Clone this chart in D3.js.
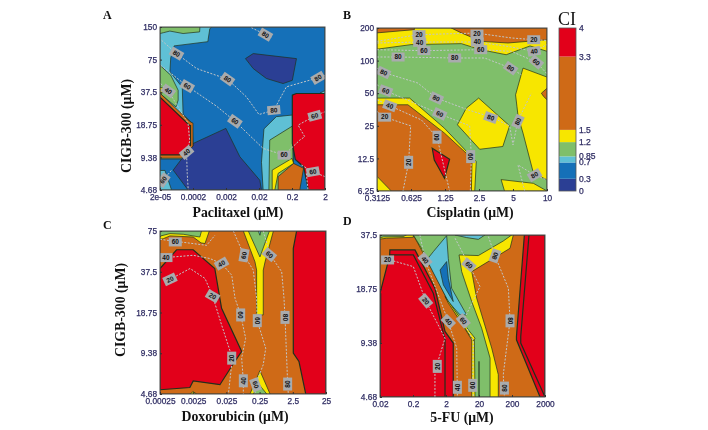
<!DOCTYPE html>
<html><head><meta charset="utf-8">
<script src="https://cdn.jsdelivr.net/npm/d3@7"></script>
<style>html,body{margin:0;padding:0;background:#fff}svg{display:block;filter:blur(.35px)}</style>
</head><body><svg id="c" width="708" height="430"></svg>
<script>
// CI colour bands
const ciBreaks = [0.3, 0.7, 0.85, 1.2, 1.5, 3.3];
const ciColors = ["#2b3f94", "#1570b8", "#5fc0d5", "#7fbf6a", "#f7e600", "#cf6a17", "#e2001a"];
const ciTicks = [0, 0.3, 0.7, 0.85, 1.2, 1.5, 3.3, 4];

// Axis tick labels
const aXTicks = ["2e-05", "0.0002", "0.002", "0.02", "0.2", "2"];
const aYTicks = ["150", "75", "37.5", "18.75", "9.38", "4.68"];
const bXTicks = ["0.3125", "0.625", "1.25", "2.5", "5", "10"];
const bYTicks = ["200", "100", "50", "25", "12.5", "6.25"];
const cXTicks = ["0.00025", "0.0025", "0.025", "0.25", "2.5", "25"];
const cYTicks = ["75", "37.5", "18.75", "9.38", "4.68"];
const dXTicks = ["0.02", "0.2", "2", "20", "200", "2000"];
const dYTicks = ["37.5", "18.75", "9.38", "4.68"];

// CI regions: [CI level, [dose position % along x, % down y]...], painted in order
const aRegions = [
 [0.5, [[0,0],[100,0],[100,100],[0,100]]],
 [0.1, [[51.8,19.4],[56.5,16.3],[82.7,19.4],[80.2,32.7],[74.6,34.7],[64.5,31.6],[56.5,25.5]]],
 [0.1, [[8,87.8],[20.2,71.4],[39.9,62.2],[48.4,79.6],[60.5,94],[61.5,100],[17,100]]],
 [0.75,[[0,0],[31.3,0],[30.2,1],[29.2,7.5],[29,9],[8.5,11.6],[6.5,19],[6,27.5],[13.5,37],[14,53.5],[19.5,59],[20,73],[13,81],[0,81]]],
 [0.75,[[0,88],[3,88],[7,100],[0,100]]],
 [1,   [[0,0],[24.2,0],[24,3],[14,4],[6,2.5],[2,3.5],[0,4]]],
 [1,   [[0,23.5],[6.5,29.6],[11,38.8],[11,44.9],[9.7,49],[0,40.8]]],
 [1.3, [[0,37],[2,37.5],[1,41],[0,41]]],
 [2,   [[0,40.6],[18,58],[20,59],[20,73],[13,80.5],[0,80.5]]],
 [3.6, [[0,43],[17.5,60],[18.5,60.5],[18.5,72.5],[12,78.5],[0,78.5]]],
 [0.75,[[62.5,100],[61.5,83],[63,62.5],[70.5,55],[80.2,54],[81,100]]],
 [1,   [[66,100],[66.5,69.4],[80.2,60.8],[81,100]]],
 [1.3, [[68,87.8],[80,80.6],[81,83.7],[71.6,89.8],[69.6,100],[68,100]]],
 [2,   [[71.6,91.8],[81,83.7],[87,86.7],[84.7,100],[71.6,100]]],
 [0.75,[[97,40.5],[100,39],[100,41]]],
 [3.6, [[80.2,41.8],[82.6,40.8],[100,40.8],[100,100],[90,100],[87,85.7],[82,81.2],[80.2,71.4]]]
];
const bRegions = [
 [1,   [[0,0],[100,0],[100,100],[0,100]]],
 [1.3, [[0,0],[100,0],[100,14.3],[90,11],[76,16.4],[61,13.3],[49.6,9.6],[20,10.2],[0,13]]],
 [2,   [[43.7,0],[100,0],[100,7.2],[77,9.2],[61.4,8.2],[49.6,3]]],
 [2,   [[0,0],[22,0],[22,1],[0,3]]],
 [1.3, [[85.9,24.6],[100,30.1],[100,93.2],[92,89],[85.9,64.5],[83,54.3],[82.3,48],[81.5,41]]],
 [2,   [[96.7,40],[100,37],[100,44],[98,42]]],
 [1.3, [[73,93],[92,95.3],[100,100],[75,100]]],
 [1.3, [[59.8,43],[78,60],[74,72.7],[60.4,74.4],[47.3,59.4],[52.5,49.2]]],
 [1.3, [[0,43],[19.2,43],[39.7,61.5],[58.4,82],[57.5,100],[0,100]]],
 [2,   [[0,47.1],[18.2,47.1],[39.7,64.5],[52.5,76.8],[55.9,83],[55.5,100],[8.4,100],[0,91]]],
 [3.6, [[32.5,73.8],[42.7,80.5],[39.7,92.2],[33.7,81]]]
];
const cRegions = [
 [2,   [[0,0],[100,0],[100,100],[0,100]]],
 [3.6, [[80.3,10.6],[82.3,0],[100,0],[100,100],[87.8,100],[83.7,80],[80.3,74.9]]],
 [3.6, [[0,23],[10,11.5],[20,11.5],[33,23],[37.1,47.4],[49.2,73.9],[43.2,83],[36.1,94.3],[20,92],[18,96],[0,97.4]]],
 [1.3, [[0,0],[29.7,0],[27.1,7.7],[24.7,7.3],[20,3.7],[6,3],[2,4.7],[0,5.1]]],
 [1,   [[0,0],[25,0],[24,3.7],[14,2],[6,1.6],[0.6,3],[0,3.7]]],
 [1.3, [[50.2,0],[68.3,0],[63.3,18.9],[62.2,24],[62.2,51.5],[58.2,51.5],[58.2,24],[57.2,18.9]]],
 [1,   [[53.2,0],[65.9,0],[60.2,15.9]]],
 [0.75,[[59.2,0],[60.8,0],[60.2,2.6]]],
 [1.3, [[60.2,85.7],[66.3,100],[54.2,100]]],
 [1,   [[59.8,94.3],[64.3,100],[56.2,100]]],
 [1.3, [[18,100],[20,98.5],[22,100]]]
];
const dRegions = [
 [2,   [[0,0],[100,0],[100,100],[0,100]]],
 [1.3, [[0,0],[20.2,0],[20.2,1.4],[4,2],[0,2.5]]],
 [1,   [[0,0],[16,0],[14,1],[2,1.2],[0,1.7]]],
 [1.3, [[20.2,0],[80.8,0],[78.8,8.2],[55.6,22.6],[58.6,39],[67.7,69.8],[71.7,86.2],[71.7,100],[55.6,100],[55.6,64.7],[41.4,41.1],[33.3,24.6]]],
 [1,   [[20.2,0],[79.8,0],[74.7,3.7],[59.6,12.7],[47.9,12.3],[49.5,22.6],[55.6,41.1],[61.6,57.5],[66.7,76],[66.7,100],[57.6,100],[57.2,64.7],[41.4,41.1],[31.3,18.5]]],
 [1,   [[60,78],[60,100]]],
 [0.75,[[28.3,15.4],[32.3,10.3],[40.4,0.4],[41.4,14.4],[43.4,32.9],[52.5,49.3],[48.5,49.3],[41.4,41.1]]],
 [0.75,[[45.5,0],[63.6,0],[59.6,2.7],[52.5,1.6]]],
 [0.5, [[36.4,21.6],[40.4,16.4],[41.4,26.7],[44.4,41.1],[38.4,30.8]]],
 [1.3, [[39.4,38],[53.5,58.5],[57.6,63.7],[56.6,65.3],[41.4,42]]],
 [3.6, [[87.5,0],[100,0],[100,100],[97,100],[82.7,64.7],[82.7,62.6]]],
 [3.6, [[90.3,0],[100,0],[100,100],[85.3,66.7],[85.3,62.6]]],
 [3.6, [[0,36],[5,30.8],[6,9.2],[21.2,9.2],[33.3,32.9],[39.4,59.5],[44.4,66.7],[44.4,100],[0,100]]],
 [3.6, [[0,100],[0,36],[6,12.3],[20.2,12.3],[32.3,36],[39.4,64.7],[39.4,100]]],
 [3.6, [[0.4,36],[0.4,67]]]
];

// Inhibition isolines
const aLines = [
 [[1,8.2],[10,16.3],[22.2,25.5],[40.9,32],[52.4,42.9],[60,53.7],[69,51],[76.6,36.7],[95.8,31.2],[100,29.6]],
 [[55.4,0.4],[63.9,4.7],[67.5,6.1]],
 [[0.4,23.5],[16.5,36.3],[34.3,48.6],[45.4,57.8],[62.5,74.5],[75.2,78.6],[84.7,69.4],[87.7,67.3],[83.7,60.2],[93.8,54.5],[100,52]],
 [[0.4,34.7],[5,39.2],[17,59],[18,70],[16.1,76.9],[16.5,90],[17.1,100]],
 [[85.7,84.7],[92.7,88.8],[100,91.8]],
 [[88.7,89.8],[89.7,100]],
 [[0,100],[2,93.9],[7,87.8]]
];
const bLines = [
 [[0,8.2],[24.1,4.1],[58.4,3.1],[79,6.1],[92.4,7.2],[100,7.6]],
 [[0,9.2],[25.1,8.6],[59,8.6],[77,11.3],[92.4,14.3],[100,10.2]],
 [[0,13.3],[27.6,13.9],[61,13.3],[79,14.3],[93.7,20.9],[100,28.1]],
 [[0,17.8],[12.4,17.8],[45.7,18.4],[63.3,18.4],[78.6,24.6],[84.9,28.7]],
 [[0,24.6],[3.9,27.3],[24.1,33.8],[34.9,43],[53.5,50.2],[67.3,54.7],[78,60],[80,71.7],[82.9,56.8],[90.8,40]],
 [[0,34.8],[5.1,38.5],[36.9,52.7],[54.5,60],[55.5,78.9],[54.9,100]],
 [[0,44],[7.5,47.7],[26.1,56.4],[35.3,67],[42.7,100]],
 [[0,51.2],[4.5,54.7],[19.8,60],[18.6,82.4],[15.3,100]],
 [[86.9,100],[82.9,84],[92.7,90.2],[100,93.2]]
];
const cLines = [
 [[0,5.1],[9.2,6.3],[28.1,8.8],[33.1,2.6]],
 [[3.6,16.3],[20,14.9],[30.1,16.9],[37.1,20],[43.2,27.1],[45.2,41.3],[48.6,51.5],[51.6,65.8],[49.2,78],[50.2,91.9],[50.2,100]],
 [[6,29.7],[18.1,23],[27.1,29.1],[31.7,39.9],[37.1,57.6],[43.6,78],[41.2,100]],
 [[44.2,0],[50.6,14.9],[56.2,24],[58.2,41.3],[58.6,55.2],[63.7,71.9],[62.2,82],[57.6,94.3],[57.2,100]],
 [[62.2,0],[66.3,14.5],[73.3,25],[74.7,41.3],[75.3,53],[76.3,78],[76.9,93.9],[77.3,100]]
];
const dLines = [
 [[8.1,16],[20.2,19.5],[27.7,40.7],[39.4,63.7],[33.3,84.2],[33.3,100]],
 [[24.2,0],[27.3,15.4],[41.4,53.4],[46.5,69.8],[46.9,100]],
 [[45.5,2],[53.9,18.5],[60.6,31.8],[50.5,53],[56.6,65.7],[56.2,92.8],[56.6,100]],
 [[65.7,1],[69.7,12.9],[77.8,32.9],[78.8,53],[74.7,86.2],[75.4,100]]
];

// Isoline labels: x%, y%, value, rotation
const aLabels = [[10,16.3,80,30],[40.9,32,80,35],[69,51,80,-5],[95.8,31.2,80,-30],[63.9,4.7,80,30],[16.5,36.3,60,30],[45.4,57.8,60,35],[75.2,78.6,60,0],[93.8,54.5,60,-15],[92.7,88.8,60,-10],[5,39.2,40,35],[16.1,76.9,40,-40],[2,93.9,60,-55]];
const bLabels = [[24.7,4.1,20,0],[58.8,3.7,20,0],[25.1,8.8,40,0],[59,8.6,40,0],[27.6,13.9,60,0],[61,13.3,60,0],[92.2,7.2,20,0],[92.4,14.3,40,-10],[93.7,20.9,60,40],[12.4,17.8,80,0],[45.7,18.4,80,0],[78.6,24.6,80,35],[3.9,27.3,80,25],[5.1,38.5,60,20],[7.5,47.7,40,20],[4.5,54.7,20,0],[34.9,43,80,25],[36.9,52.7,60,25],[35.3,67,60,-90],[18.6,82.4,20,-90],[55.1,78.9,60,90],[66.9,54.9,80,20],[82.9,57.4,80,-65],[92.7,90.2,80,-30]];
const cLabels = [[9.2,6.7,60,0],[3.6,16.3,40,0],[6,29.7,20,-25],[37.1,20,40,-30],[31.7,39.9,20,30],[50.6,14.9,60,-80],[65.9,14.5,60,40],[48.6,51.5,60,90],[58.6,55,60,90],[75.3,53,80,90],[43.2,78,20,-90],[50.2,91.9,40,-90],[57.6,94.3,60,70],[76.9,93.9,80,-90]];
const dLabels = [[4.6,15.4,20,0],[27.3,15.4,40,50],[27.7,40.7,20,50],[41.4,53.4,40,45],[50.5,53,60,50],[53.9,18.5,60,40],[69.7,12.9,80,-70],[78.8,53,80,90],[34.7,81.1,20,-90],[46.9,94,40,-90],[56.2,92.8,60,-90],[75.4,94.5,80,-90]];

const panels = [
 {id:"A", box:[160,325,27,190], xTicks:aXTicks, yTicks:aYTicks, regions:aRegions, lines:aLines, labels:aLabels, xTitle:"Paclitaxel (μM)", yTitle:"CIGB-300 (μM)", letter:[103,19], xt:[238,217], yt:[131,126]},
 {id:"B", box:[377,547,28,191], xTicks:bXTicks, yTicks:bYTicks, regions:bRegions, lines:bLines, labels:bLabels, xTitle:"Cisplatin (μM)", letter:[343,19], xt:[470,217]},
 {id:"C", box:[160,326,231,394], xTicks:cXTicks, yTicks:cYTicks, regions:cRegions, lines:cLines, labels:cLabels, xTitle:"Doxorubicin (μM)", yTitle:"CIGB-300 (μM)", letter:[103,229], xt:[235,421], yt:[125,310]},
 {id:"D", box:[380,545,235,397], xTicks:dXTicks, yTicks:dYTicks, regions:dRegions, lines:dLines, labels:dLabels, xTitle:"5-FU (μM)", letter:[343,225], xt:[462,422]}
];

const color = d3.scaleThreshold().domain(ciBreaks).range(ciColors);
const svg = d3.select("#c");
const serif = "'Liberation Serif','Times New Roman',serif";
const sans = "'Liberation Sans',Arial,sans-serif";
const edge = "#20301c";

panels.forEach(p => {
  const [x0,x1,y0,y1] = p.box;
  const x = d3.scaleLinear().domain([0,100]).range([x0,x1]);
  const y = d3.scaleLinear().domain([0,100]).range([y0,y1]);
  const line = d3.line().x(d => x(d[0])).y(d => y(d[1]));
  const g = svg.append("g");
  g.append("clipPath").attr("id","clip"+p.id).append("rect")
    .attr("x",x0).attr("y",y0).attr("width",x1-x0).attr("height",y1-y0);
  const plot = g.append("g").attr("clip-path",`url(#clip${p.id})`);
  plot.selectAll("path.r").data(p.regions).join("path").attr("class","r")
    .attr("d",d => line(d[1])+"Z")
    .attr("fill",d => color(d[0]))
    .attr("stroke",edge).attr("stroke-width",d => d[0] > 3.3 ? 1.2 : 0.7);
  plot.selectAll("path.l").data(p.lines).join("path").attr("class","l")
    .attr("d",line).attr("fill","none").attr("stroke","#c2c6c8")
    .attr("stroke-width",1).attr("stroke-dasharray","2,1.5");
  const lab = plot.selectAll("g.lab").data(p.labels).join("g").attr("class","lab")
    .attr("transform",d => `translate(${x(d[0])},${y(d[1])}) rotate(${d[3]})`);
  lab.append("rect").attr("x",-6.5).attr("y",-4.5).attr("width",13).attr("height",9).attr("fill","#a9abad");
  lab.append("text").attr("text-anchor","middle").attr("dy","0.35em")
    .attr("font-family",sans).attr("font-size",6.5).attr("font-weight","bold").attr("fill","#111")
    .text(d => d[2]);

  g.append("rect").attr("x",x0).attr("y",y0).attr("width",x1-x0).attr("height",y1-y0)
    .attr("fill","none").attr("stroke","#4a4a4a").attr("stroke-width",1);

  const xAxis = d3.scalePoint().domain(p.xTicks).range([x0,x1]);
  const yAxis = d3.scalePoint().domain(p.yTicks).range([y0,y1]);
  const ax = g.append("g").attr("transform",`translate(0,${y1})`).call(d3.axisBottom(xAxis).tickSize(-2).tickPadding(4));
  const ay = g.append("g").attr("transform",`translate(${x0},0)`).call(d3.axisLeft(yAxis).tickSize(-2).tickPadding(3));
  [ax,ay].forEach(a => {
    a.select(".domain").remove();
    a.selectAll("line").attr("stroke","#333");
    a.selectAll("text").attr("font-family",sans).attr("font-size",8.3).attr("fill","#2f2d63").attr("font-weight","normal").attr("stroke","#2f2d63").attr("stroke-width",0.25);
  });

  g.append("text").attr("x",p.letter[0]).attr("y",p.letter[1]).text(p.id)
    .attr("font-family",serif).attr("font-weight","bold").attr("font-size",12).attr("fill","#111");
  g.append("text").attr("x",p.xt[0]).attr("y",p.xt[1]).attr("text-anchor","middle").text(p.xTitle)
    .attr("font-family",serif).attr("font-weight","bold").attr("font-size",13.8).attr("fill","#111");
  if (p.yTitle) g.append("text").attr("transform",`translate(${p.yt[0]},${p.yt[1]}) rotate(-90)`)
    .attr("text-anchor","middle").text(p.yTitle)
    .attr("font-family",serif).attr("font-weight","bold").attr("font-size",13.8).attr("fill","#111");
});

// Colour bar
const barY = d3.scaleLinear().domain([0,4]).range([191,28]);
const edges = [0, ...ciBreaks, 4];
const bar = svg.append("g");
bar.selectAll("rect.b").data(ciColors).join("rect").attr("class","b")
  .attr("x",559).attr("width",17)
  .attr("y",(d,i) => barY(edges[i+1])).attr("height",(d,i) => barY(edges[i])-barY(edges[i+1]))
  .attr("fill",d => d);
bar.append("rect").attr("x",559).attr("y",28).attr("width",17).attr("height",163)
  .attr("fill","none").attr("stroke","#555").attr("stroke-width",.8);
bar.selectAll("text.t").data(ciTicks).join("text").attr("class","t")
  .attr("x",579).attr("y",d => barY(d)).attr("dy","0.35em").text(d => d)
  .attr("font-family",sans).attr("font-size",8.5).attr("fill","#2f2d63").attr("stroke","#2f2d63").attr("stroke-width",0.25);
bar.append("text").attr("x",558).attr("y",25).text("CI")
  .attr("font-family",serif).attr("font-size",18).attr("fill","#111");
</script></body></html>
